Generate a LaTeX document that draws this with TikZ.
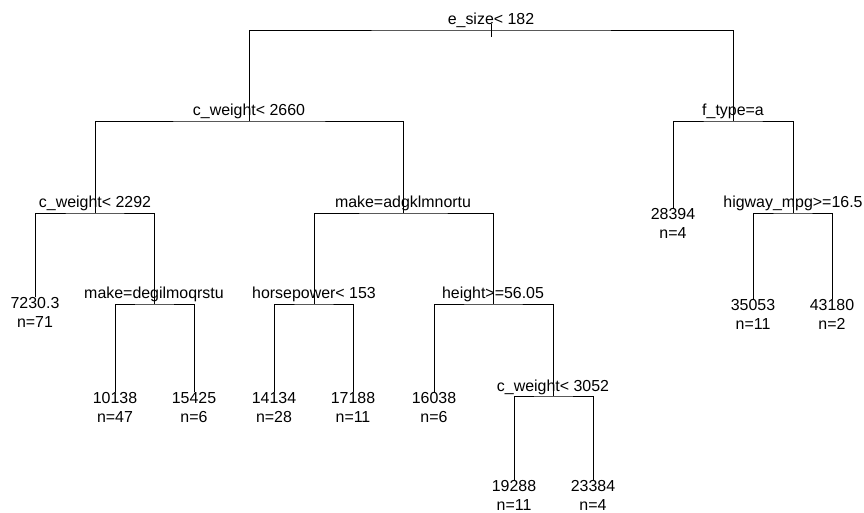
\documentclass[tikz,border=0pt]{standalone}
\usepackage{fontspec}
\setmainfont{Liberation Sans}

\begin{document}
\begin{tikzpicture}
        [x=1bp,y=-1bp,line width=0.9bp,
        every node/.style={inner sep=0pt,font=\fontsize{16}{19}\selectfont},
        splitlab/.style={anchor=base,yshift=5bp},
        leafval/.style={anchor=base,yshift=-11bp},
        leafn/.style={anchor=base,yshift=-30bp}]
        \useasboundingbox (0,0) rectangle (864,513);
        \coordinate (root) at (491,30);
        \coordinate (roottop) at (491,24);
        \coordinate (rootbot) at (491,37);
        \coordinate (cwa) at (249,121);
        \coordinate (ftype) at (733,121);
        \coordinate (cwb) at (95,213);
        \coordinate (makea) at (403,213);
        \coordinate (hwy) at (793,213);
        \coordinate (maked) at (154,304);
        \coordinate (hp) at (314,304);
        \coordinate (ht) at (493,304);
        \coordinate (cwc) at (553,396);
        \coordinate (la) at (35,297);
        \coordinate (lb) at (115,392);
        \coordinate (lc) at (194,392);
        \coordinate (ld) at (274,392);
        \coordinate (le) at (353,392);
        \coordinate (lf) at (434,392);
        \coordinate (lg) at (514,480);
        \coordinate (lh) at (593,480);
        \coordinate (li) at (673,209);
        \coordinate (lj) at (753,299);
        \coordinate (lk) at (832,299);
        \draw (roottop) -- (rootbot);
        \draw (cwa) |- (root) -| (ftype);
        \draw (cwb) |- (cwa) -| (makea);
        \draw (li) |- (ftype) -| (hwy);
        \draw (la) |- (cwb) -| (maked);
        \draw (hp) |- (makea) -| (ht);
        \draw (lj) |- (hwy) -| (lk);
        \draw (lb) |- (maked) -| (lc);
        \draw (ld) |- (hp) -| (le);
        \draw (lf) |- (ht) -| (cwc);
        \draw (lg) |- (cwc) -| (lh);
        \node[splitlab] (rootlab) at (root) {e\_size< 182};
        \node[splitlab] (cwalab) at (cwa) {c\_weight< 2660};
        \node[splitlab] (ftypelab) at (ftype) {f\_type=a};
        \node[splitlab] (cwblab) at (cwb) {c\_weight< 2292};
        \node[splitlab] (makealab) at (makea) {make=adgklmnortu};
        \node[splitlab] (hwylab) at (hwy) {higway\_mpg>=16.5};
        \node[splitlab] (makedlab) at (maked) {make=degilmoqrstu};
        \node[splitlab] (hplab) at (hp) {horsepower< 153};
        \node[splitlab] (htlab) at (ht) {height>=56.05};
        \node[splitlab] (cwclab) at (cwc) {c\_weight< 3052};
        \node[leafval] (laval) at (la) {7230.3};
        \node[leafn] (lan) at (la) {n=71};
        \node[leafval] (lbval) at (lb) {10138};
        \node[leafn] (lbn) at (lb) {n=47};
        \node[leafval] (lcval) at (lc) {15425};
        \node[leafn] (lcn) at (lc) {n=6};
        \node[leafval] (ldval) at (ld) {14134};
        \node[leafn] (ldn) at (ld) {n=28};
        \node[leafval] (leval) at (le) {17188};
        \node[leafn] (len) at (le) {n=11};
        \node[leafval] (lfval) at (lf) {16038};
        \node[leafn] (lfn) at (lf) {n=6};
        \node[leafval] (lgval) at (lg) {19288};
        \node[leafn] (lgn) at (lg) {n=11};
        \node[leafval] (lhval) at (lh) {23384};
        \node[leafn] (lhn) at (lh) {n=4};
        \node[leafval] (lival) at (li) {28394};
        \node[leafn] (lin) at (li) {n=4};
        \node[leafval] (ljval) at (lj) {35053};
        \node[leafn] (ljn) at (lj) {n=11};
        \node[leafval] (lkval) at (lk) {43180};
        \node[leafn] (lkn) at (lk) {n=2};
\end{tikzpicture}
\end{document}
